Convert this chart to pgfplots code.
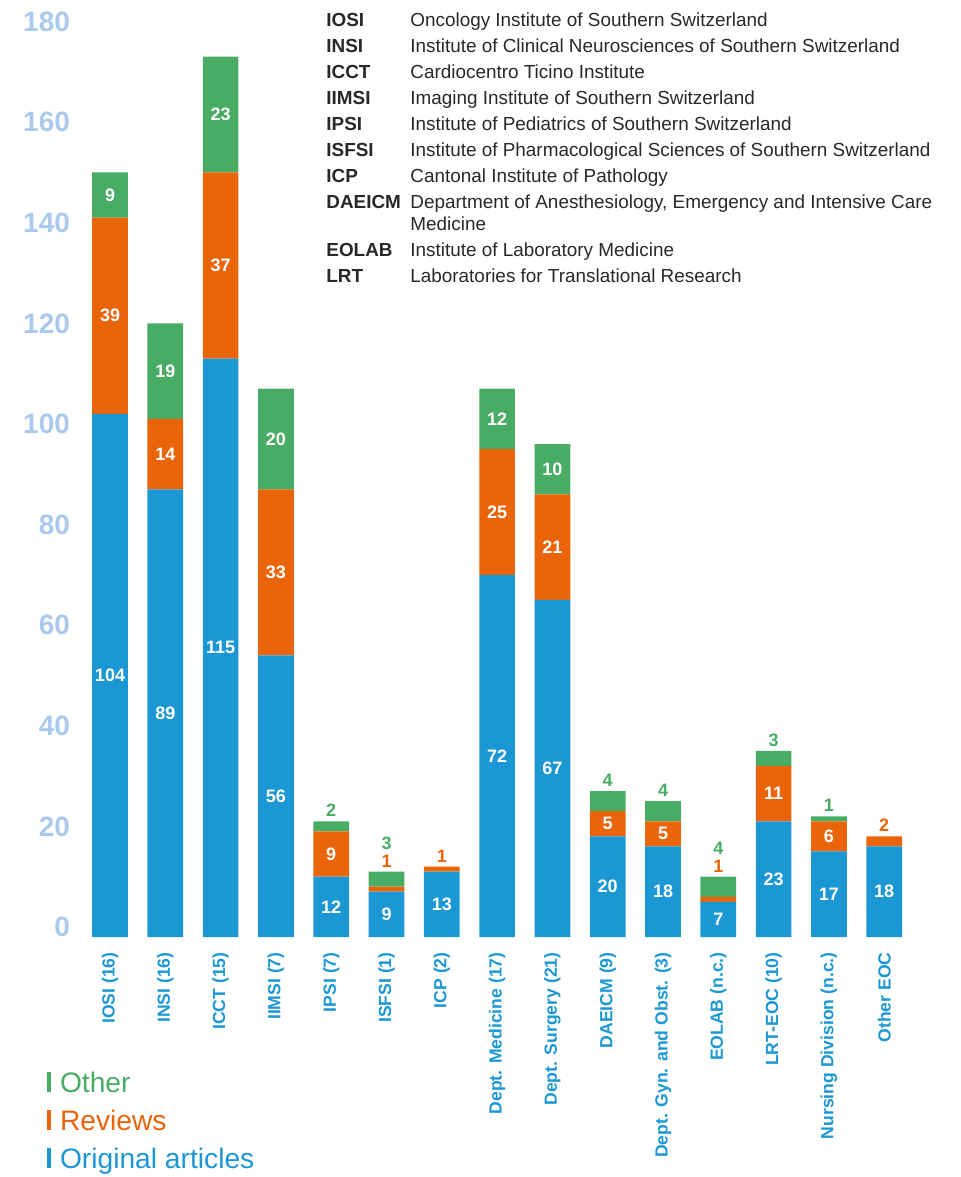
\documentclass[border=0pt]{standalone}
\usepackage{pgfplots}
\pgfplotsset{compat=1.18}
\usepackage{pgfplotstable}
\usepackage{fontspec}
\setmainfont{Liberation Sans}

\definecolor{cblue}{RGB}{27,151,212}
\definecolor{corange}{RGB}{234,100,10}
\definecolor{cgreen}{RGB}{73,172,100}
\definecolor{ctick}{RGB}{170,201,236}
\definecolor{ctext}{RGB}{40,40,40}

% publications per unit: original articles, reviews, other
\pgfplotstableread{
x orig rev oth
0  104 39 9
1  89  14 19
2  115 37 23
3  56  33 20
4  12  9  2
5  9   1  3
6  13  1  0
7  72  25 12
8  67  21 10
9  20  5  4
10 18  5  4
11 7   1  4
12 23  11 3
13 17  6  1
14 18  2  0
}\counts

% labels inside the segments (y = middle of segment)
\pgfplotstableread{
x  y     lab
0  52    104
0  123.5 39
0  147.5 9
1  44.5  89
1  96    14
1  112.5 19
2  57.5  115
2  133.5 37
2  163.5 23
3  28    56
3  72.5  33
3  99    20
4  6     12
4  16.5  9
5  4.5   9
6  6.5   13
7  36    72
7  84.5  25
7  103   12
8  33.5  67
8  77.5  21
8  93    10
9  10    20
9  22.5  5
10 9     18
10 20.5  5
11 3.5   7
12 11.5  23
12 28.5  11
13 8.5   17
13 20    6
14 9     18
}\inlabels

% small segments: labels above the bar (y = bar top)
\pgfplotstableread{
x  y  lab
5  13 1
6  14 1
11 12 1
14 20 2
}\orangeabove
\pgfplotstableread{
x  y  lab
4  23 2
9  29 4
10 27 4
12 37 3
13 24 1
}\greenabove
\pgfplotstableread{
x  y  lab
5  13 3
11 12 4
}\greenabovetwo

\pgfplotsset{
  chartframe/.style={
    scale only axis,
    width=414.75pt, height=452.7pt,
    xmin=-0.5, xmax=14.5, ymin=0, ymax=180,
    at={(41.18pt,120pt)}, anchor=south west,
  },
  barlab/.style={
    draw=none, mark=none,
    point meta=explicit symbolic,
    nodes near coords,
    every node near coord/.append style={anchor=center, inner sep=0pt,
      font=\fontsize{9}{10}\selectfont\bfseries, #1},
  },
}

\begin{document}
\begin{tikzpicture}
\useasboundingbox (0,0) rectangle (480pt,588.5pt);

\begin{axis}[
  chartframe,
  ybar stacked,
  bar width=17.85pt,
  axis line style={draw=none},
  tick style={draw=none},
  ytick={0,20,...,180},
  /pgf/number format/assume math mode=true,
  yticklabel style={font=\fontsize{14}{16}\selectfont\bfseries, text=ctick,
    anchor=east, inner sep=0pt, xshift=-6pt, yshift=5pt},
  xtick={0,...,14},
  xticklabels={IOSI (16), INSI (16), ICCT (15), IIMSI (7), IPSI (7),
    ISFSI (1), ICP (2), Dept. Medicine (17), Dept. Surgery (21),
    DAEICM (9), Dept. Gyn. and Obst. (3), EOLAB (n.c.), LRT-EOC (10),
    Nursing Division (n.c.), Other EOC},
  xticklabel style={yshift=-7.5pt, rotate=90, anchor=east, inner sep=0pt,
    font=\fontsize{8.8}{10}\selectfont\bfseries, text=cblue},
  reverse legend,
  legend style={at={(-0.0426,-0.149)}, anchor=north west,
    draw=none, fill=none, inner sep=0pt, outer sep=0pt,
    row sep=5.9pt, font=\fontsize{14.1}{16}\selectfont,
    cells={anchor=west},
    nodes={inner sep=0pt, text height=10.2pt, text depth=2.9pt}},
  legend image code/.code={
    \fill[#1] (0pt,-3.65pt) rectangle (2pt,6.45pt);
    \path (6.5pt,0pt);
  },
]
\addplot[fill=cblue, draw=none] table[x=x, y=orig] {\counts};
\addlegendentry{\textcolor{cblue}{Original articles}}
\addplot[fill=corange, draw=none] table[x=x, y=rev] {\counts};
\addlegendentry{\textcolor{corange}{Reviews}}
\addplot[fill=cgreen, draw=none] table[x=x, y=oth] {\counts};
\addlegendentry{\textcolor{cgreen}{Other}}
\end{axis}

% value labels, same frame
\begin{axis}[chartframe, hide axis, clip=false]
\addplot[barlab={text=white}] table[x=x, y=y, meta=lab] {\inlabels};
\addplot[barlab={text=corange, yshift=5.35pt}] table[x=x, y=y, meta=lab] {\orangeabove};
\addplot[barlab={text=cgreen, yshift=5.35pt}] table[x=x, y=y, meta=lab] {\greenabove};
\addplot[barlab={text=cgreen, yshift=14pt}] table[x=x, y=y, meta=lab] {\greenabovetwo};
\end{axis}

\node[anchor=north west, inner sep=0pt, text=ctext,
  font=\fontsize{9.45}{13}\selectfont] at (163pt,584.3pt) {%
\begin{tabular}{@{}p{42pt}@{}l@{}}
\textbf{IOSI} & Oncology Institute of Southern Switzerland\\
\textbf{INSI} & Institute of Clinical Neurosciences of Southern Switzerland\\
\textbf{ICCT} & Cardiocentro Ticino Institute\\
\textbf{IIMSI} & Imaging Institute of Southern Switzerland\\
\textbf{IPSI} & Institute of Pediatrics of Southern Switzerland\\
\textbf{ISFSI} & Institute of Pharmacological Sciences of Southern Switzerland\\
\textbf{ICP} & Cantonal Institute of Pathology\\
\textbf{DAEICM} & Department of Anesthesiology, Emergency and Intensive Care\\[-2pt]
 & Medicine\\
\textbf{EOLAB} & Institute of Laboratory Medicine\\
\textbf{LRT} & Laboratories for Translational Research
\end{tabular}};
\end{tikzpicture}
\end{document}
